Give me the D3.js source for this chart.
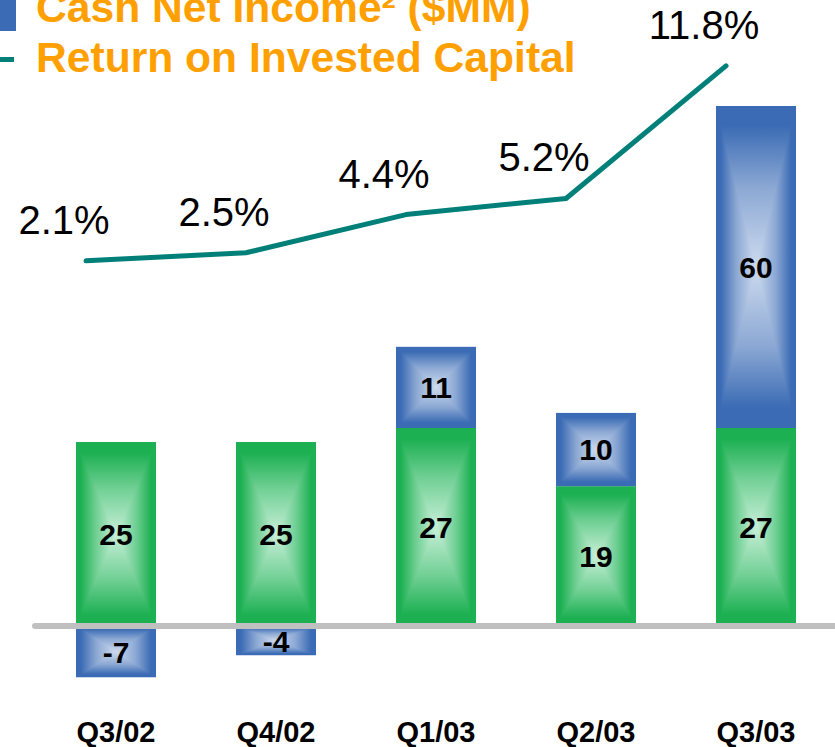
<!DOCTYPE html>
<html>
<head>
<meta charset="utf-8">
<script src="https://cdn.jsdelivr.net/npm/d3@7"></script>
<style>
  html, body { margin: 0; padding: 0; background: #ffffff; }
  svg { display: block; font-family: "Liberation Sans", Arial, sans-serif; }
</style>
</head>
<body>
<svg id="chart" width="835" height="747"></svg>
<script>
// ---- Data ----
const categories = ["Q3/02", "Q4/02", "Q1/03", "Q2/03", "Q3/03"];
const baseValues = [25, 25, 27, 19, 27];      // green segment
const cashValues = [-7, -4, 11, 10, 60];      // blue segment (Cash Net Income)
const roicValues = [2.1, 2.5, 4.4, 5.2, 11.8];  // Return on Invested Capital (%)
const legendLabels = ["Cash Net Income\u00B2 ($MM)", "Return on Invested Capital"];

// ---- Setup ----
const W = 835, H = 747;
const svg = d3.select("#chart");
const defs = svg.append("defs");

const x = d3.scaleBand().domain(categories).range([36, 836]).paddingInner(0.5).paddingOuter(0.25);
// bar value scale, with a compressed section above 40 (broken scale as in the original)
const y = d3.scaleLinear().domain([0, 40, 87]).range([626, 332, 106]);
// ROIC scale
const yr = d3.scaleLinear().domain([0, 12]).range([303, 61.8]);

const palettes = {
  green: { edge: "#1db052", mid: "#6fcf93", light: "#c8efd8" },
  blue:  { edge: "#3a6bb4", mid: "#8aa7d3", light: "#cddaee" }
};
const dirs = {
  top:    { x1: 0, y1: 0, x2: 0, y2: 1 },
  bottom: { x1: 0, y1: 1, x2: 0, y2: 0 },
  left:   { x1: 0, y1: 0, x2: 1, y2: 0 },
  right:  { x1: 1, y1: 0, x2: 0, y2: 0 }
};
Object.entries(palettes).forEach(([name, p]) => {
  Object.entries(dirs).forEach(([d, v]) => {
    const g = defs.append("linearGradient").attr("id", `g-${name}-${d}`)
      .attr("x1", v.x1).attr("y1", v.y1).attr("x2", v.x2).attr("y2", v.y2);
    g.append("stop").attr("offset", 0).attr("stop-color", p.edge);
    g.append("stop").attr("offset", 0.12).attr("stop-color", p.edge);
    g.append("stop").attr("offset", 0.5).attr("stop-color", p.mid);
    g.append("stop").attr("offset", 1).attr("stop-color", p.light);
  });
});

// Build segments
const segments = [];
categories.forEach((c, i) => {
  segments.push({ cat: c, y0: 0, y1: baseValues[i], value: baseValues[i], color: "green" });
  const b = cashValues[i];
  if (b < 0) segments.push({ cat: c, y0: b, y1: 0, value: b, color: "blue" });
  else segments.push({ cat: c, y0: baseValues[i], y1: baseValues[i] + b, value: b, color: "blue" });
});

const bw = x.bandwidth();
const barG = svg.append("g");
segments.forEach(s => {
  const x0 = x(s.cat), x1 = x0 + bw;
  const top = y(Math.max(s.y0, s.y1)), bot = y(Math.min(s.y0, s.y1));
  const cx = (x0 + x1) / 2, cy = (top + bot) / 2;
  const g = barG.append("g");
  g.append("rect").attr("x", x0).attr("y", top).attr("width", bw).attr("height", bot - top)
    .attr("fill", palettes[s.color].mid);
  const tris = {
    top:    [[x0, top], [x1, top], [cx, cy]],
    bottom: [[x0, bot], [x1, bot], [cx, cy]],
    left:   [[x0, top], [x0, bot], [cx, cy]],
    right:  [[x1, top], [x1, bot], [cx, cy]]
  };
  Object.entries(tris).forEach(([d, pts]) => {
    g.append("path").attr("d", "M" + pts.map(p => p.join(",")).join("L") + "Z")
      .attr("fill", `url(#g-${s.color}-${d})`)
      .attr("shape-rendering", "crispEdges");
  });
  s.cx = cx; s.cy = cy;
});

// zero line
svg.append("line").attr("x1", 35).attr("x2", W + 5).attr("y1", y(0)).attr("y2", y(0))
  .attr("stroke", "#c0c0c0").attr("stroke-width", 6).attr("stroke-linecap", "round");

// bar labels
svg.append("g").selectAll("text").data(segments).join("text")
  .attr("x", d => d.cx).attr("y", d => d.cy).attr("dy", "0.36em")
  .attr("text-anchor", "middle").attr("font-weight", "bold").attr("font-size", 30)
  .attr("fill", "#000").text(d => d.value);

// category labels
svg.append("g").selectAll("text").data(categories).join("text")
  .attr("x", d => x(d) + bw / 2).attr("y", 742)
  .attr("text-anchor", "middle").attr("font-weight", "bold").attr("font-size", 29)
  .attr("fill", "#000").text(d => d);

// ROIC line
const lx = c => x(c) + bw * 0.125;
const line = d3.line().x((d, i) => lx(categories[i])).y(d => yr(d));
svg.append("path").datum(roicValues).attr("d", line)
  .attr("fill", "none").attr("stroke", "#008078").attr("stroke-width", 5)
  .attr("stroke-linecap", "round").attr("stroke-linejoin", "round");

const fmt = d3.format(".1f");
svg.append("g").selectAll("text").data(roicValues).join("text")
  .attr("x", (d, i) => lx(categories[i]) - 22).attr("y", d => yr(d) - 27)
  .attr("text-anchor", "middle").attr("font-size", 40).attr("fill", "#000")
  .text(d => fmt(d) + "%");

// legend
svg.append("rect").attr("x", 0).attr("y", -10).attr("width", 16).attr("height", 41).attr("fill", "#3a6bb4");
svg.append("rect").attr("x", 0).attr("y", 57).attr("width", 14).attr("height", 5).attr("fill", "#008078");
svg.append("g").selectAll("text").data(legendLabels).join("text")
  .attr("x", 36).attr("y", (d, i) => 22 + i * 50)
  .attr("font-weight", "bold").attr("font-size", 42.6).attr("fill", "#ff9f00")
  .text(d => d);
</script>
</body>
</html>
